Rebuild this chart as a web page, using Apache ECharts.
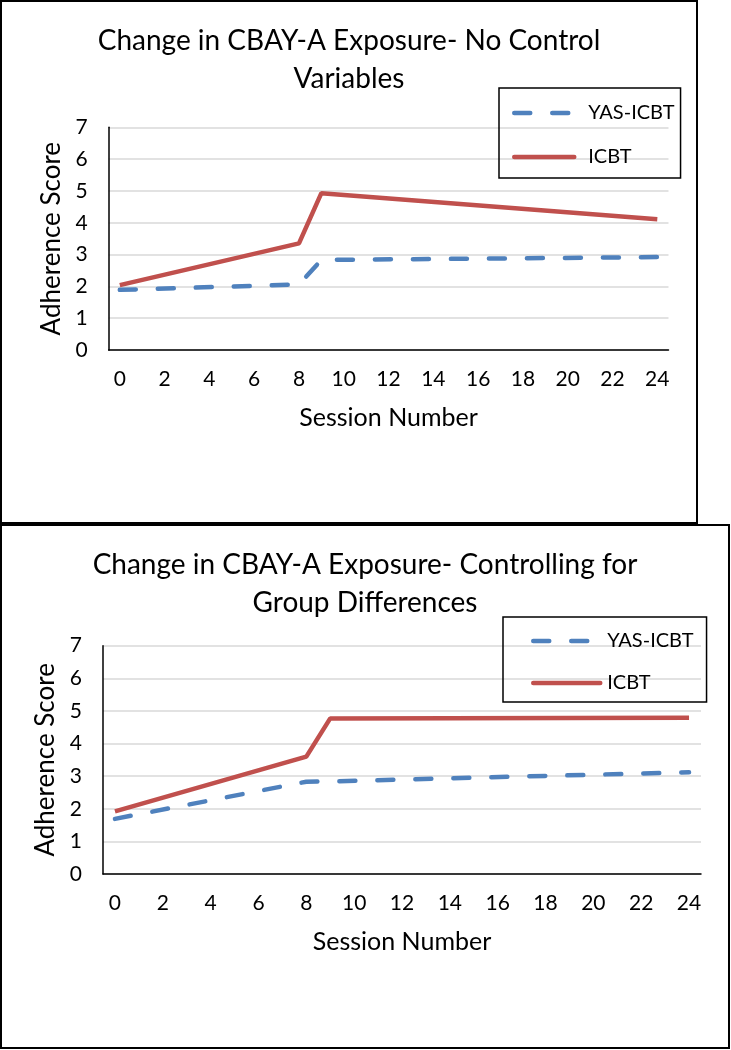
<!DOCTYPE html>
<html>
<head>
<meta charset="utf-8">
<script src="https://cdn.jsdelivr.net/npm/echarts@6/dist/echarts.min.js"></script>
<style>
html,body{margin:0;padding:0;background:#fff;}
#chart{width:731px;height:1050px;}
</style>
</head>
<body>
<div id="chart"></div>
<script>
// ---- data ----
const sessions = ['0','1','2','3','4','5','6','7','8','9','10','11','12','13','14','15','16','17','18','19','20','21','22','23','24'];
const keySessions = [0, 8, 9, 24];
const topYas  = [1.89, 2.06, 2.83, 2.92];
const topIcbt = [2.04, 3.35, 4.93, 4.11];
const botYas  = [1.69, 2.83, 2.84, 3.12];
const botIcbt = [1.92, 3.60, 4.77, 4.79];
const yTicks = [0, 1, 2, 3, 4, 5, 6, 7];
const titles = ['Change in CBAY-A Exposure- No Control\nVariables', 'Change in CBAY-A Exposure- Controlling for\nGroup Differences'];
const seriesNames = ['YAS-ICBT', 'ICBT'];

const FONT = 'Lato, "Open Sans", sans-serif';
const BLUE = '#4F81BD', RED = '#C0504D';

function pairs(xs, ys){ return xs.map((x,i)=>[x, ys[i]]); }

function xAx(gi, nameGap){
  return {
    type:'category', gridIndex:gi, data:sessions, boundaryGap:true,
    axisLine:{show:true, lineStyle:{color:'#000', width:1.5}},
    axisTick:{show:false},
    axisLabel:{interval:1, color:'#000', fontSize:21, fontFamily:FONT, margin:19},
    splitLine:{show:false},
    name:'Session Number', nameLocation:'middle', nameGap:nameGap,
    nameTextStyle:{color:'#000', fontSize:25, fontFamily:FONT}
  };
}
function yAx(gi, nameGap){
  return {
    type:'value', gridIndex:gi, min:yTicks[0], max:yTicks[yTicks.length-1], interval:1,
    axisLine:{show:true, lineStyle:{color:'#000', width:1.5}},
    axisTick:{show:false},
    axisLabel:{color:'#000', fontSize:21, fontFamily:FONT, margin:21},
    splitLine:{show:true, lineStyle:{color:'#D9D9D9', width:1.5}},
    name:'Adherence Score', nameLocation:'middle', nameGap:nameGap, nameRotate:90,
    nameTextStyle:{color:'#000', fontSize:26, fontFamily:FONT}
  };
}
function yasSeries(gi, ys){
  return {name:seriesNames[0], type:'line', xAxisIndex:gi, yAxisIndex:gi, data:pairs(keySessions, ys),
    symbol:'none', lineStyle:{color:BLUE, width:4.5, type:[16,22], cap:'round'}, itemStyle:{color:BLUE}};
}
function icbtSeries(gi, ys){
  return {name:seriesNames[1], type:'line', xAxisIndex:gi, yAxisIndex:gi, data:pairs(keySessions, ys),
    symbol:'none', lineStyle:{color:RED, width:4.5, type:'solid'}, itemStyle:{color:RED}};
}
function legendAt(left, top, pad, iw, gap, textPad){
  return {
    data:seriesNames, orient:'vertical', left:left, top:top,
    borderColor:'#000', borderWidth:1.5, padding:pad,
    itemWidth:iw, itemHeight:22, itemGap:gap,
    itemStyle:{opacity:0},
    lineStyle:{width:4.5, cap:'round'},
    textStyle:{color:'#000', fontSize:20, fontFamily:FONT, padding:[0,0,0,textPad]}
  };
}

const chart = echarts.init(document.getElementById('chart'), null, {renderer:'canvas'});
chart.setOption({
  backgroundColor:'#fff',
  animation:false,
  title:[
    {text:titles[0], left:344, top:17, textAlign:'center',
     textStyle:{color:'#000', fontSize:28, fontWeight:'normal', fontFamily:FONT, lineHeight:38}},
    {text:titles[1], left:360, top:541, textAlign:'center',
     textStyle:{color:'#000', fontSize:28, fontWeight:'normal', fontFamily:FONT, lineHeight:38}}
  ],
  legend:[
    legendAt(499, 88, [15,6,11,13], 60, 24, 9),
    legendAt(503, 617, [14,13,9,28], 67, 22, 2)
  ],
  grid:[
    {left:108.6, right:62.5, top:127.3, bottom:700, containLabel:false},
    {left:103, right:30, top:645.7, bottom:176, containLabel:false}
  ],
  xAxis:[xAx(0, 55), xAx(1, 55)],
  yAxis:[yAx(0, 43), yAx(1, 43)],
  series:[yasSeries(0, topYas), icbtSeries(0, topIcbt), yasSeries(1, botYas), icbtSeries(1, botIcbt)],
  graphic:[
    {type:'rect', shape:{x:1, y:1, width:696, height:522}, style:{fill:'none', stroke:'#000', lineWidth:2}, silent:true},
    {type:'rect', shape:{x:1, y:525, width:728, height:523}, style:{fill:'none', stroke:'#000', lineWidth:2}, silent:true}
  ]
});
</script>
</body>
</html>
